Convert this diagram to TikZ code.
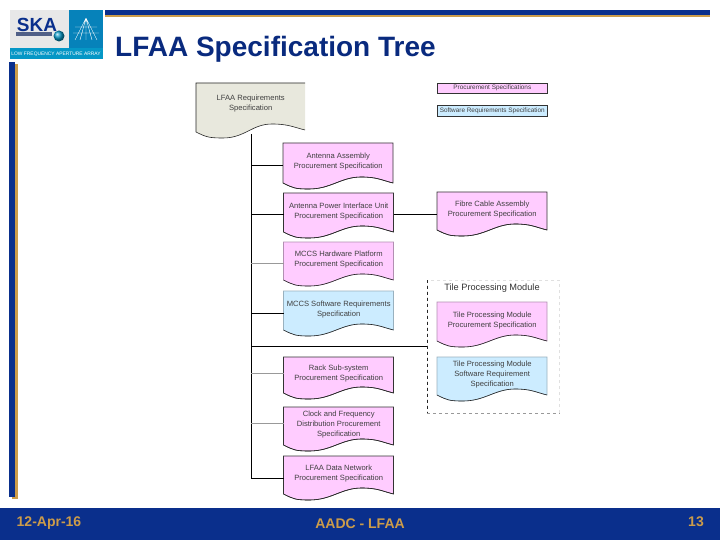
\documentclass[tikz,border=0pt]{standalone}
\usepackage{fontspec}
\setmainfont{Liberation Sans}

\definecolor{navy}{HTML}{0A2F8C}
\definecolor{gold}{HTML}{CC9C4A}
\definecolor{procpink}{HTML}{FFCCFF}
\definecolor{softblue}{HTML}{CCECFF}
\definecolor{reqgrey}{HTML}{E8E8DD}

\tikzset{
  doctext/.style={align=center,font=\fontsize{7.6}{9.9}\selectfont,text=black!75,inner sep=0pt},
  branch/.style={line width=0.7pt},
  fadebranch/.style={line width=0.7pt,black!40},
  band/.style={fill=navy,draw=none},
  strip/.style={fill=gold,draw=none},
  foottext/.style={font=\bfseries\fontsize{14}{16}\selectfont,text=gold},
}

% #1 edge colour, #2 name, #3 x, #4 y, #5 height, #6 fill, #7 text
\newcommand{\specdoc}[7][black!80]{
  \filldraw[fill=#6,draw=#1,line width=0.6pt] (#3,#4) -- ++(110,0) -- ++(0,#5)
    .. controls +(-12,-3) and +(16,0) .. ++(-32,-6)
    .. controls +(-20,0) and +(22,0) .. ++(-52,12)
    .. controls +(-14,0) and +(10,5) .. ++(-26,-6) -- cycle;
  \draw[black!85,line width=0.6pt] (#3,#4+#5)
    .. controls +(10,5) and +(-14,0) .. ++(26,6)
    .. controls +(22,0) and +(-20,0) .. ++(52,-12)
    .. controls +(16,0) and +(-12,-3) .. ++(32,6);
  \node[doctext,anchor=north west,minimum width=110pt,minimum height=#5 pt] (#2) at (#3,#4-1.5) {#7};
}

\begin{document}
\begin{tikzpicture}[x=1pt,y=-1pt]
    \useasboundingbox (0,0) rectangle (720,540);

    % Footer and page bars
    \fill[band] (0,508) rectangle (720,540);
    \fill[strip] (105,12) rectangle (710,17);
    \fill[band] (105,10) rectangle (710,15);
    \fill[strip] (12,64) rectangle (18,499);
    \fill[band] (9,62) rectangle (15,497);

    % Logo
    \fill[black!9] (10,10) rectangle (69,48);
    \fill[navy!60!cyan] (69,10) rectangle (103,48);
    \fill[navy!50!cyan] (10,48) rectangle (103,59);
    \fill[navy!60!black!70] (16,32) rectangle (52,36);
    \node[font=\bfseries\fontsize{19}{19}\selectfont,text=navy,inner sep=0pt] (skaname) at (37,25) {SKA};
    \shade[ball color=navy!50!cyan] (59,36) circle (5.5);
    \node[font=\fontsize{4.9}{5}\selectfont,text=white,inner sep=0pt] (logoline) at (56,54) {LOW FREQUENCY APERTURE ARRAY};
    \draw[white,line width=0.4pt] (86,18) -- (75,40) (86,18) -- (97,40) (86,18) -- (86,40)
      (86,18) -- (80,40) (86,18) -- (92,40) (75,27) -- (97,27) (73,33) -- (99,33);

    % Title
    \node[anchor=base west,font=\bfseries\fontsize{28}{32}\selectfont,text=navy!90!black,inner sep=0pt] (title) at (115,57) {LFAA Specification Tree};

    % Top level document, open on its right side
    \fill[reqgrey] (196,83) -- (305,83) -- (305,130)
      .. controls +(-12,-3) and +(16,0) .. ++(-33,-6)
      .. controls +(-20,0) and +(22,0) .. ++(-49,14)
      .. controls +(-14,0) and +(10,5) .. ++(-27,-6) -- cycle;
    \draw[black!85,line width=0.6pt] (305,83) -- (196,83) -- (196,132)
      .. controls +(10,5) and +(-14,0) .. ++(27,6)
      .. controls +(22,0) and +(-20,0) .. ++(49,-14)
      .. controls +(16,0) and +(-12,-3) .. ++(33,6);
    \node[doctext,anchor=north west,minimum width=109pt,minimum height=30pt] (reqspec) at (196,88) {LFAA Requirements\\Specification};
    \coordinate (reqfoot) at (251,134);

    % Legend
    \node[draw=black!80,fill=procpink,line width=0.6pt,anchor=north west,minimum width=110pt,minimum height=10pt,inner sep=0pt,font=\fontsize{6.4}{7}\selectfont,text=black!75] (legendproc) at (437,83) {Procurement Specifications};
    \node[draw=black!80,fill=softblue,line width=0.6pt,anchor=north west,minimum width=110pt,minimum height=11pt,inner sep=0pt,font=\fontsize{6.4}{7}\selectfont,text=black!75] (legendsoft) at (437,105) {Software Requirements Specification};

    % Tile processing module group
    \node[draw=black!12,dashed,line width=0.5pt,anchor=north west,minimum width=132pt,minimum height=133pt,inner sep=0pt] (tpmbox) at (427,280) {};
    \draw[dashed,black!85,line width=0.6pt] (tpmbox.north west) -- (tpmbox.south west);
    \draw[dashed,black!40,line width=0.6pt] (tpmbox.south west) -- (tpmbox.south east);
    \node[font=\fontsize{9.2}{11}\selectfont,text=black!80,inner sep=0pt] (tpmlabel) at (492,288) {Tile Processing Module};

    % Documents of the first column
    \specdoc{antennaspec}{283}{143}{40}{procpink}{Antenna Assembly\\Procurement Specification}
    \specdoc{apiuspec}{283.5}{193}{39}{procpink}{Antenna Power Interface Unit\\Procurement Specification}
    \specdoc[procpink!70!black]{mccshwspec}{283.5}{242}{38}{procpink}{MCCS Hardware Platform\\Procurement Specification}
    \specdoc[softblue!75!black]{mccsswspec}{283.5}{291}{39}{softblue}{MCCS Software Requirements\\Specification}
    \specdoc{rackspec}{283.5}{357}{36}{procpink}{Rack Sub-system\\Procurement Specification}
    \specdoc{clockspec}{283.5}{407}{38}{procpink}{Clock and Frequency\\Distribution Procurement\\Specification}
    \specdoc{dataspec}{283.5}{456}{38}{procpink}{LFAA Data Network\\Procurement Specification}

    % Documents of the second column
    \specdoc{fibrespec}{437}{192}{38}{procpink}{Fibre Cable Assembly\\Procurement Specification}
    \specdoc[procpink!70!black]{tpmprocspec}{437}{302}{39}{procpink}{Tile Processing Module\\Procurement Specification}
    \specdoc[softblue!75!black]{tpmsoftspec}{437}{357}{38}{softblue}{Tile Processing Module\\Software Requirement\\Specification}

    % Tree
    \draw[branch] (reqfoot) |- ([yshift=-4.5pt]dataspec.west);
    \draw[branch] (reqfoot |- antennaspec.west) ++(0,3.5) -- ([yshift=-3.5pt]antennaspec.west);
    \draw[branch] (reqfoot |- apiuspec.west) ++(0,3) -- ([yshift=-3pt]apiuspec.west);
    \draw[fadebranch] (reqfoot |- mccshwspec.west) ++(0,3.5) -- ([yshift=-3.5pt]mccshwspec.west);
    \draw[branch] (reqfoot |- mccsswspec.west) ++(0,4) -- ([yshift=-4pt]mccsswspec.west);
    \draw[branch] (reqfoot |- tpmbox.west) -- (tpmbox.west);
    \draw[fadebranch] (reqfoot |- rackspec.west) ++(0,-0.5) -- ([yshift=0.5pt]rackspec.west);
    \draw[fadebranch] (reqfoot |- clockspec.west) ++(0,-1.5) -- ([yshift=1.5pt]clockspec.west);
    \draw[branch] ([yshift=-3pt]apiuspec.east) -- ([yshift=-3pt]apiuspec.east -| fibrespec.west);

    % Footer text
    \node[foottext,inner sep=0pt] (footdate) at (49,523.5) {12-Apr-16};
    \node[foottext,inner sep=0pt] (foottitle) at (360,524) {AADC - LFAA};
    \node[foottext,inner sep=0pt] (footpage) at (696,522) {13};
\end{tikzpicture}
\end{document}
